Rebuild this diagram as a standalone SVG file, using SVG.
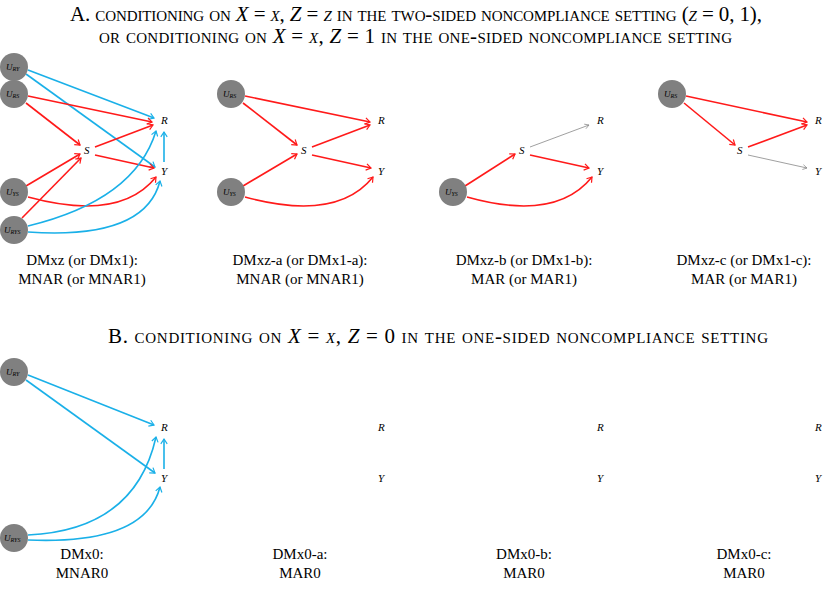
<svg xmlns="http://www.w3.org/2000/svg" width="830" height="589" viewBox="0 0 830 589">
<style>
.t{font-family:"Liberation Serif",serif;font-size:21px;font-variant:small-caps;fill:#000}
.m{font-style:italic}
.c{fill:#808080}
.u{font-family:"Liberation Serif",serif;font-style:italic;font-size:9px;fill:#000}
.us{font-size:6px}
.v{font-family:"Liberation Serif",serif;font-style:italic;font-size:11px;fill:#000}
.l{font-family:"Liberation Serif",serif;font-size:15px;fill:#000;text-anchor:middle}
.r{stroke:#ff1a1a;stroke-width:1.6;fill:none;marker-end:url(#ar)}
.b{stroke:#1ab0e8;stroke-width:1.6;fill:none;marker-end:url(#ab)}
.g{stroke:#888;stroke-width:0.8;fill:none;marker-end:url(#ag)}
</style>
<defs>
<marker id="ar" viewBox="-8 -5 10 10" markerWidth="8" markerHeight="8" markerUnits="userSpaceOnUse" orient="auto"><path d="M-6,-4 L0,0 L-6,4" fill="none" stroke="#ff1a1a" stroke-width="1.5"/></marker>
<marker id="ab" viewBox="-8 -5 10 10" markerWidth="8" markerHeight="8" markerUnits="userSpaceOnUse" orient="auto"><path d="M-6,-4 L0,0 L-6,4" fill="none" stroke="#1ab0e8" stroke-width="1.5"/></marker>
<marker id="ag" viewBox="-8 -5 10 10" markerWidth="7" markerHeight="7" markerUnits="userSpaceOnUse" orient="auto"><path d="M-6,-3.5 L0,0 L-6,3.5" fill="none" stroke="#888" stroke-width="1"/></marker>
</defs>
<rect width="830" height="589" fill="#fff"/>
<text class="t" x="70" y="21" textLength="692" lengthAdjust="spacing">A. conditioning on <tspan class="m">X</tspan> = <tspan class="m">x</tspan>, <tspan class="m">Z</tspan> = <tspan class="m">z</tspan> in the two-sided noncompliance setting (<tspan class="m">z</tspan> = 0, 1),</text>
<text class="t" x="99" y="43" textLength="633" lengthAdjust="spacing">or conditioning on <tspan class="m">X</tspan> = <tspan class="m">x</tspan>, <tspan class="m">Z</tspan> = 1 in the one-sided noncompliance setting</text>
<text class="t" x="108" y="343" textLength="660" lengthAdjust="spacing">B. conditioning on <tspan class="m">X</tspan> = <tspan class="m">x</tspan>, <tspan class="m">Z</tspan> = 0 in the one-sided noncompliance setting</text>
<g id="connectors">
<line class="b" x1="28" y1="70" x2="154" y2="118"/>
<line class="b" x1="26" y1="74" x2="155" y2="167"/>
<line class="r" x1="28" y1="96" x2="152" y2="122"/>
<line class="r" x1="26" y1="103" x2="80" y2="145"/>
<line class="r" x1="95" y1="147" x2="153" y2="125"/>
<line class="r" x1="95" y1="155" x2="154" y2="168"/>
<line class="r" x1="26" y1="186" x2="80" y2="154"/>
<path class="r" d="M28,197 Q120,222 156,177"/>
<line class="r" x1="22" y1="218" x2="81" y2="158"/>
<path class="b" d="M28,226 Q135,200 156,131"/>
<path class="b" d="M28,232 Q145,240 160,181"/>
<line class="b" x1="164" y1="162" x2="164" y2="132"/>
<line class="r" x1="245" y1="96" x2="370" y2="122"/>
<line class="r" x1="243" y1="103" x2="297" y2="145"/>
<line class="r" x1="312" y1="147" x2="370" y2="125"/>
<line class="r" x1="312" y1="155" x2="371" y2="168"/>
<line class="r" x1="243" y1="186" x2="297" y2="154"/>
<path class="r" d="M245,197 Q337,222 373,177"/>
<line class="g" x1="530" y1="147" x2="589" y2="125"/>
<line class="r" x1="530" y1="155" x2="589" y2="168"/>
<line class="r" x1="465" y1="186" x2="515" y2="154"/>
<path class="r" d="M467,197 Q556,222 592,177"/>
<line class="r" x1="686" y1="96" x2="807" y2="122"/>
<line class="r" x1="684" y1="103" x2="735" y2="145"/>
<line class="r" x1="748" y1="147" x2="807" y2="125"/>
<line class="g" x1="748" y1="155" x2="807" y2="168"/>
<line class="b" x1="28" y1="375" x2="154" y2="425"/>
<line class="b" x1="26" y1="380" x2="155" y2="473"/>
<path class="b" d="M28,535 Q135,530 156,437"/>
<path class="b" d="M28,540 Q145,545 160,487"/>
<line class="b" x1="164" y1="469" x2="164" y2="439"/>
</g>
<g id="p1">
<g id="URY"><circle class="c" cx="14" cy="67" r="14"/><text class="u" x="6" y="70">U<tspan class="us" dy="1">RY</tspan></text></g>
<g id="URS"><circle class="c" cx="14" cy="94" r="14"/><text class="u" x="6" y="97">U<tspan class="us" dy="1">RS</tspan></text></g>
<g id="UYS"><circle class="c" cx="14" cy="192" r="14"/><text class="u" x="6" y="195">U<tspan class="us" dy="1">YS</tspan></text></g>
<g id="URYS"><circle class="c" cx="14" cy="230" r="14"/><text class="u" x="4" y="233">U<tspan class="us" dy="1">RYS</tspan></text></g>
<g id="S"><text class="v" x="84" y="154">S</text></g>
<g id="R"><text class="v" x="161" y="124">R</text></g>
<g id="Y"><text class="v" x="161" y="175">Y</text></g>
<text class="l" x="82" y="265">DMxz (or DMx1):</text>
<text class="l" x="82" y="284">MNAR (or MNAR1)</text>
</g>
<g id="p2">
<g id="URS2"><circle class="c" cx="231" cy="94" r="14"/><text class="u" x="223" y="97">U<tspan class="us" dy="1">RS</tspan></text></g>
<g id="UYS2"><circle class="c" cx="231" cy="192" r="14"/><text class="u" x="223" y="195">U<tspan class="us" dy="1">YS</tspan></text></g>
<g id="S2"><text class="v" x="301" y="154">S</text></g>
<g id="R2"><text class="v" x="378" y="124">R</text></g>
<g id="Y2"><text class="v" x="378" y="175">Y</text></g>
<text class="l" x="300" y="265">DMxz-a (or DMx1-a):</text>
<text class="l" x="300" y="284">MNAR (or MNAR1)</text>
</g>
<g id="p3">
<g id="UYS3"><circle class="c" cx="453" cy="192" r="14"/><text class="u" x="445" y="195">U<tspan class="us" dy="1">YS</tspan></text></g>
<g id="S3"><text class="v" x="519" y="154">S</text></g>
<g id="R3"><text class="v" x="597" y="124">R</text></g>
<g id="Y3"><text class="v" x="597" y="175">Y</text></g>
<text class="l" x="524" y="265">DMxz-b (or DMx1-b):</text>
<text class="l" x="524" y="284">MAR (or MAR1)</text>
</g>
<g id="p4">
<g id="URS4"><circle class="c" cx="672" cy="94" r="14"/><text class="u" x="664" y="97">U<tspan class="us" dy="1">RS</tspan></text></g>
<g id="S4"><text class="v" x="737" y="154">S</text></g>
<g id="R4"><text class="v" x="815" y="124">R</text></g>
<g id="Y4"><text class="v" x="815" y="175">Y</text></g>
<text class="l" x="744" y="265">DMxz-c (or DMx1-c):</text>
<text class="l" x="744" y="284">MAR (or MAR1)</text>
</g>
<g id="pB1">
<g id="URYB"><circle class="c" cx="14" cy="372" r="14"/><text class="u" x="6" y="375">U<tspan class="us" dy="1">RY</tspan></text></g>
<g id="URYSB"><circle class="c" cx="14" cy="538" r="14"/><text class="u" x="4" y="541">U<tspan class="us" dy="1">RYS</tspan></text></g>
<g id="RB"><text class="v" x="161" y="431">R</text></g>
<g id="YB"><text class="v" x="161" y="482">Y</text></g>
<text class="l" x="82" y="559">DMx0:</text>
<text class="l" x="82" y="578">MNAR0</text>
</g>
<g id="pB2"><text class="v" x="378" y="431">R</text><text class="v" x="378" y="482">Y</text><text class="l" x="300" y="559">DMx0-a:</text><text class="l" x="300" y="578">MAR0</text></g>
<g id="pB3"><text class="v" x="597" y="431">R</text><text class="v" x="597" y="482">Y</text><text class="l" x="524" y="559">DMx0-b:</text><text class="l" x="524" y="578">MAR0</text></g>
<g id="pB4"><text class="v" x="815" y="431">R</text><text class="v" x="815" y="482">Y</text><text class="l" x="744" y="559">DMx0-c:</text><text class="l" x="744" y="578">MAR0</text></g>
</svg>
